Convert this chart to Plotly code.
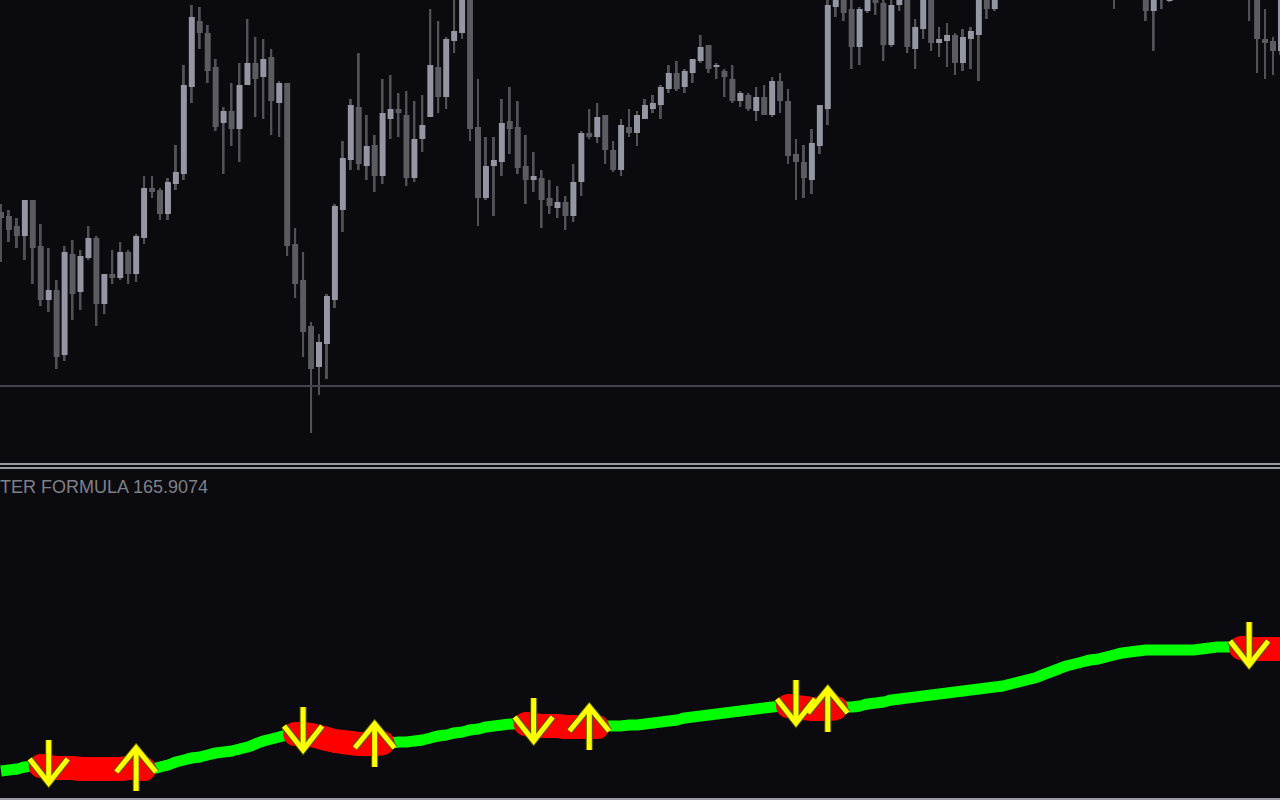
import plotly.graph_objects as go

# ---------------- data ----------------
OPEN = [288, 284, 274, 264, 300, 254, 200, 210, 145, 246,
        208, 242, 262, 196, 226, 222, 248, 226, 262, 312,
        310, 286, 316, 326, 413, 479, 467, 433, 377, 389,
        371, 415, 437, 423, 443, 397, 417, 256, 220, 174,
        133, 156, 200, 290, 340, 393, 334, 355, 324, 381,
        391, 385, 322, 361, 383, 433, 403, 459, 467, 505,
        373, 302, 334, 338, 379, 373, 334, 320, 322, 302,
        292, 298, 284, 318, 367, 363, 385, 350, 330, 373,
        367, 381, 391, 395, 411, 427, 413, 427, 439, 455,
        433, 429, 421, 399, 405, 389, 403, 385, 419, 399,
        346, 338, 320, 354, 391, 493, 503, 491, 453, 489,
        503, 497, 455, 495, 503, 451, 471, 503, 457, 459,
        465, 437, 461, 465, 503, 491, 503, 512, 520, 515,
        527, 535, 530, 541, 549, 544, 536, 528, 520, 513,
        508, 504, 512, 518, 510, 489, 507, 499, 509, 516,
        523, 519, 528, 524, 517, 521, 514, 510, 505, 461,
        459, 449]
HIGH = [296, 290, 282, 300, 300, 276, 252, 220, 254, 260,
        250, 274, 264, 226, 250, 258, 250, 266, 324, 324,
        312, 322, 355, 435, 495, 493, 475, 441, 393, 417,
        437, 481, 463, 461, 451, 419, 417, 272, 248, 178,
        166, 206, 296, 359, 401, 447, 385, 365, 421, 425,
        407, 409, 399, 405, 491, 479, 463, 502, 510, 510,
        421, 363, 363, 401, 413, 399, 365, 348, 330, 320,
        314, 304, 336, 369, 391, 397, 385, 359, 381, 391,
        389, 401, 405, 415, 435, 439, 431, 441, 465, 455,
        437, 431, 435, 409, 407, 413, 415, 423, 427, 411,
        361, 355, 371, 395, 500, 506, 506, 502, 493, 506,
        506, 502, 500, 506, 506, 481, 506, 506, 473, 477,
        467, 471, 473, 506, 506, 506, 518, 526, 528, 534,
        541, 543, 548, 556, 555, 550, 540, 533, 524, 518,
        515, 517, 524, 522, 514, 512, 518, 515, 521, 529,
        530, 533, 535, 527, 526, 524, 519, 515, 509, 491,
        463, 510]
LOW = [238, 258, 252, 240, 216, 194, 188, 131, 139, 180,
       190, 240, 174, 186, 216, 220, 216, 218, 256, 302,
       280, 280, 310, 320, 397, 451, 417, 369, 326, 354,
       338, 415, 383, 381, 365, 363, 244, 202, 143, 67,
       105, 121, 192, 268, 330, 330, 320, 308, 316, 361,
       363, 314, 318, 348, 383, 387, 391, 447, 461, 359,
       274, 300, 284, 324, 346, 326, 296, 308, 272, 286,
       282, 270, 278, 304, 361, 357, 336, 328, 324, 363,
       354, 381, 387, 381, 407, 409, 407, 417, 437, 427,
       421, 403, 397, 393, 389, 379, 385, 383, 387, 336,
       300, 302, 306, 346, 375, 483, 479, 431, 435, 487,
       485, 439, 453, 489, 447, 431, 461, 449, 443, 433,
       425, 429, 431, 419, 481, 489, 501, 508, 510, 512,
       522, 524, 526, 536, 538, 530, 521, 514, 507, 503,
       491, 502, 506, 504, 479, 449, 491, 498, 505, 512,
       514, 515, 519, 511, 510, 508, 505, 479, 427, 421,
       425, 445]
CLOSE = [282, 270, 264, 300, 252, 200, 210, 143, 248, 206,
         244, 262, 196, 226, 222, 248, 226, 264, 312, 308,
         286, 318, 328, 415, 483, 467, 429, 373, 389, 371,
         415, 437, 421, 441, 399, 417, 254, 216, 168, 131,
         158, 204, 294, 342, 395, 336, 354, 324, 387, 391,
         387, 322, 361, 375, 435, 403, 461, 469, 505, 371,
         302, 334, 340, 377, 371, 332, 320, 324, 300, 294,
         298, 284, 318, 367, 363, 383, 350, 330, 375, 367,
         385, 395, 397, 413, 427, 411, 429, 441, 453, 431,
         435, 423, 399, 407, 391, 403, 385, 419, 399, 344,
         338, 322, 357, 395, 495, 503, 487, 453, 491, 503,
         497, 455, 495, 503, 453, 473, 503, 457, 461, 465,
         437, 463, 469, 503, 491, 503, 512, 520, 515, 527,
         535, 530, 541, 549, 544, 536, 528, 520, 513, 508,
         504, 512, 518, 510, 489, 507, 512, 509, 516, 523,
         519, 528, 524, 517, 521, 514, 510, 505, 461, 457,
         449, 505]
# indicator ("formula") value per bar
IND = [29, 30, 31, 33, 34, 34, 33, 32, 32, 32,
       31, 31, 31, 31, 31, 31, 32, 32, 31, 31,
       33, 35, 38, 40, 42, 43, 45, 47, 48, 49,
       51, 53, 56, 59, 61, 63, 65, 66, 66, 65,
       63, 61, 59, 58, 57, 56, 56, 56, 57, 57,
       58, 58, 59, 60, 62, 64, 65, 67, 68, 70,
       71, 73, 74, 75, 76, 76, 76, 75, 74, 74,
       74, 73, 73, 73, 73, 73, 74, 74, 74, 75,
       75, 76, 77, 78, 79, 80, 82, 83, 84, 85,
       86, 87, 88, 89, 90, 91, 92, 93, 94, 94,
       93, 92, 91, 91, 91, 92, 93, 93, 94, 96,
       97, 98, 100, 101, 102, 103, 104, 105, 106, 107,
       108, 109, 110, 111, 112, 113, 114, 116, 118, 120,
       122, 125, 128, 131, 134, 136, 138, 140, 141, 143,
       145, 147, 148, 149, 150, 150, 150, 150, 150, 150,
       150, 151, 152, 153, 153, 153, 152, 151, 151, 151,
       151, 151]
RED_SEGMENTS = [(5, 18), (37, 48), (66, 75), (99, 105), (156, 161)]
DOWN_ARROWS = [6, 38, 67, 100, 157]
UP_ARROWS = [17, 47, 74, 104]
LEVEL = 114
LABEL = "TER FORMULA 165.9074"

# ---------------- style ----------------
BG = "#0a0a0f"
LIGHT = "#9596a2"
DARK = "#5b5b61"
WICK = "#515157"
GREEN = "#00ff00"
RED = "#ff0000"
YELLOW = "#ffff00"
N = len(OPEN)
idx = list(range(N))
XR = [-0.126, 160.88]

fig = go.Figure()

# candles
bull = [c >= o for o, c in zip(OPEN, CLOSE)]
fig.add_trace(go.Bar(
    x=idx, base=LOW, y=[h - l for h, l in zip(HIGH, LOW)], width=0.25,
    marker=dict(color=WICK, line=dict(width=0)), xaxis="x", yaxis="y",
    hoverinfo="skip"))
fig.add_trace(go.Bar(
    x=idx, base=[min(o, c) for o, c in zip(OPEN, CLOSE)],
    y=[max(abs(c - o), 1.2) for o, c in zip(OPEN, CLOSE)], width=0.75,
    marker=dict(color=[LIGHT if b else DARK for b in bull], line=dict(width=0)),
    xaxis="x", yaxis="y", hoverinfo="skip"))

# indicator: green base line
fig.add_trace(go.Scatter(x=idx, y=IND, mode="lines",
                         line=dict(color=GREEN, width=11, shape="spline", smoothing=0.6),
                         xaxis="x2", yaxis="y2", hoverinfo="skip"))
# red segments (thick, rounded ends)
rx, ry, ex, ey = [], [], [], []
for a, b in RED_SEGMENTS:
    b = min(b, N - 1)
    for i in range(a, b + 1):
        rx.append(i)
        ry.append(IND[i])
    rx.append(None)
    ry.append(None)
    ex += [a, b]
    ey += [IND[a], IND[b]]
fig.add_trace(go.Scatter(x=rx, y=ry, mode="lines",
                         line=dict(color=RED, width=24, shape="spline", smoothing=0.6),
                         xaxis="x2", yaxis="y2", hoverinfo="skip"))
fig.add_trace(go.Scatter(x=ex, y=ey, mode="markers",
                         marker=dict(color=RED, size=24, line=dict(width=0)),
                         xaxis="x2", yaxis="y2", hoverinfo="skip"))

# arrows
ax, ay = [], []
for i in DOWN_ARROWS:
    v = IND[i]
    ax += [i, i, None, i - 2.4, i, i + 2.4, None]
    ay += [v + 27, v - 16, None, v + 8, v - 16, v + 8, None]
for i in UP_ARROWS:
    v = IND[i]
    ax += [i, i, None, i - 2.5, i, i + 2.5, None]
    ay += [v - 23, v + 20, None, v - 4, v + 20, v - 4, None]
fig.add_trace(go.Scatter(x=ax, y=ay, mode="lines",
                         line=dict(color="#5a5a00", width=7),
                         xaxis="x2", yaxis="y2", hoverinfo="skip"))
fig.add_trace(go.Scatter(x=ax, y=ay, mode="lines",
                         line=dict(color=YELLOW, width=5),
                         xaxis="x2", yaxis="y2", hoverinfo="skip"))

# level line in price panel
fig.add_shape(type="line", xref="paper", x0=0, x1=1, yref="y", y0=LEVEL, y1=LEVEL,
              line=dict(color="#44454c", width=2))
# panel separators
for yy in (1 - 464 / 800, 1 - 468 / 800, 1 - 799 / 800):
    fig.add_shape(type="line", xref="paper", x0=0, x1=1, yref="paper", y0=yy, y1=yy,
                  line=dict(color="#9a9aa2", width=2))

fig.add_annotation(text=LABEL, xref="paper", yref="paper", x=0, y=1 - 487 / 800,
                   xanchor="left", yanchor="middle", showarrow=False, xshift=-2,
                   font=dict(family="Liberation Sans, Arial, sans-serif", size=18,
                             color="#7f8088"))

fig.update_layout(
    width=1280, height=800, margin=dict(l=0, r=0, t=0, b=0),
    paper_bgcolor=BG, plot_bgcolor=BG, showlegend=False, barmode="overlay",
    xaxis=dict(domain=[0, 1], range=XR, visible=False, anchor="y"),
    yaxis=dict(domain=[337 / 800, 1], range=[37, 500], visible=False, anchor="x"),
    xaxis2=dict(domain=[0, 1], range=XR, visible=False, anchor="y2"),
    yaxis2=dict(domain=[2 / 800, 331 / 800], range=[2, 331], visible=False, anchor="x2"),
)

fig.write_html("out.html", config={"displayModeBar": False},
               post_script="document.body.style.margin='0';"
                           "document.body.style.overflow='hidden';"
                           "document.body.style.background='#0a0a0f';")
